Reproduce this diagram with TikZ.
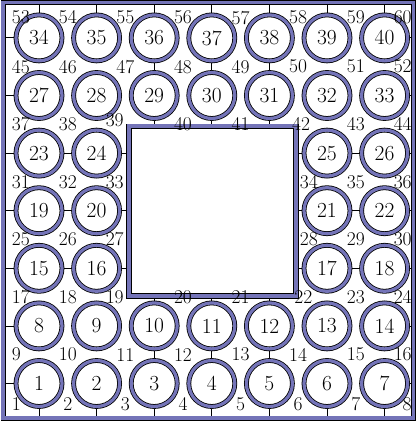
\documentclass[tikz,border=0pt]{standalone}
\usepackage{xcolor}
\definecolor{ringblue}{HTML}{7474B8}
\usepackage{tikz}
\usetikzlibrary{positioning,backgrounds,calc}
\tikzset{
  ring/.style    ={circle,draw=black,line width=0.8pt,double=ringblue,
                   double distance=3.2pt,fill=white,minimum size=46pt,
                   inner sep=0pt,font=\fontsize{21.5}{21.5}\selectfont},
  corner/.style  ={font=\fontsize{19.5}{19.5}\selectfont,inner sep=1.5pt},
  link/.style    ={draw=black,line width=0.8pt},
  framebox/.style={draw=black,line width=0.8pt,double=ringblue,
                   double distance=3.4pt,minimum width=410.6pt,
                   minimum height=415.6pt,inner sep=0pt},
  holebox/.style ={draw=black,line width=0.8pt,double=ringblue,
                   double distance=4pt,fill=white,minimum width=167pt,
                   minimum height=169.7pt,inner sep=0pt},
}

\begin{document}
\begin{tikzpicture}[x=57.6pt,y=57.6pt]
\useasboundingbox (0.323,0.349) rectangle (7.5625,7.658);
% frame and hole
\node[framebox] (frame) at (3.9425,4.0075) {};
\node[holebox] (hole) at (4.012,3.992) {};
% cells
\foreach \j/\first in {1/0,2/7,6/26,7/33}
  \foreach \i in {1,...,7}{
    \pgfmathtruncatemacro{\n}{\first+\i}
    \node[ring,alias=g\i-\j] (c\n) at (\i,\j) {\n};}
\foreach \j/\first in {3/14,4/18,5/22}
  \foreach \i/\k in {1/1,2/2,6/3,7/4}{
    \pgfmathtruncatemacro{\n}{\first+\k}
    \node[ring,alias=g\i-\j] (c\n) at (\i,\j) {\n};}
% links
\begin{scope}[on background layer]
\foreach \j in {1,2,6,7}
  \foreach \i [evaluate=\i as \k using int(\i+1)] in {1,...,6}
    \draw[link] (g\i-\j) -- (g\k-\j);
\foreach \j in {3,4,5}
  {\draw[link] (g1-\j) -- (g2-\j);
   \draw[link] (g6-\j) -- (g7-\j);
   \draw[link] (g2-\j) -- (g2-\j -| hole.west);
   \draw[link] (g6-\j) -- (g6-\j -| hole.east);}
\foreach \i in {1,2,6,7}
  \foreach \j [evaluate=\j as \k using int(\j+1)] in {1,...,6}
    \draw[link] (g\i-\j) -- (g\i-\k);
\foreach \i in {3,4,5}
  {\draw[link] (g\i-1) -- (g\i-2);
   \draw[link] (g\i-6) -- (g\i-7);
   \draw[link] (g\i-2) -- (g\i-2 |- hole.south);
   \draw[link] (g\i-6) -- (g\i-6 |- hole.north);}
\foreach \k in {1,...,7}
  {\draw[link] (g1-\k) -- (g1-\k -| frame.west);
   \draw[link] (g7-\k) -- (g7-\k -| frame.east);
   \draw[link] (g\k-1) -- (g\k-1 |- frame.south);
   \draw[link] (g\k-7) -- (g\k-7 |- frame.north);}
\end{scope}
% corner numbers
\foreach \n/\x/\y/\a in {
  1/0.5/0.5/south west, 2/1.5/0.5/south, 3/2.5/0.5/south, 4/3.5/0.5/south,
  5/4.5/0.5/south, 6/5.5/0.5/south, 7/6.5/0.5/south, 8/7.5/0.5/south east,
  9/0.5/1.5/west, 10/1.5/1.5/center, 11/2.5/1.5/center, 12/3.5/1.5/center,
  13/4.5/1.5/center, 14/5.5/1.5/center, 15/6.5/1.5/center, 16/7.5/1.5/east,
  17/0.5/2.5/west, 18/1.5/2.5/center, 19/2.5/2.5/east, 20/3.5/2.5/center,
  21/4.5/2.5/center, 22/5.59/2.5/center, 23/6.5/2.5/center, 24/7.5/2.5/east,
  25/0.5/3.5/west, 26/1.5/3.5/center, 27/2.5/3.5/east,
  28/5.5/3.5/west, 29/6.5/3.5/center, 30/7.5/3.5/east,
  31/0.5/4.5/west, 32/1.5/4.5/center, 33/2.5/4.5/east,
  34/5.5/4.5/west, 35/6.5/4.5/center, 36/7.5/4.5/east,
  37/0.5/5.5/west, 38/1.5/5.5/center, 39/2.5/5.57/east, 40/3.5/5.5/center,
  41/4.5/5.5/center, 42/5.55/5.5/center, 43/6.5/5.5/center, 44/7.5/5.5/east,
  45/0.5/6.5/west, 46/1.5/6.5/center, 47/2.5/6.5/center, 48/3.5/6.5/center,
  49/4.5/6.5/center, 50/5.5/6.5/center, 51/6.5/6.5/center, 52/7.5/6.5/east,
  53/0.5/7.5/north west, 54/1.5/7.5/north, 55/2.5/7.5/north, 56/3.5/7.5/north,
  57/4.5/7.5/north, 58/5.5/7.5/north, 59/6.5/7.5/north, 60/7.5/7.5/north east}
  \node[corner,anchor=\a] (p\n) at (\x,\y) {\n};
\end{tikzpicture}
\end{document}
